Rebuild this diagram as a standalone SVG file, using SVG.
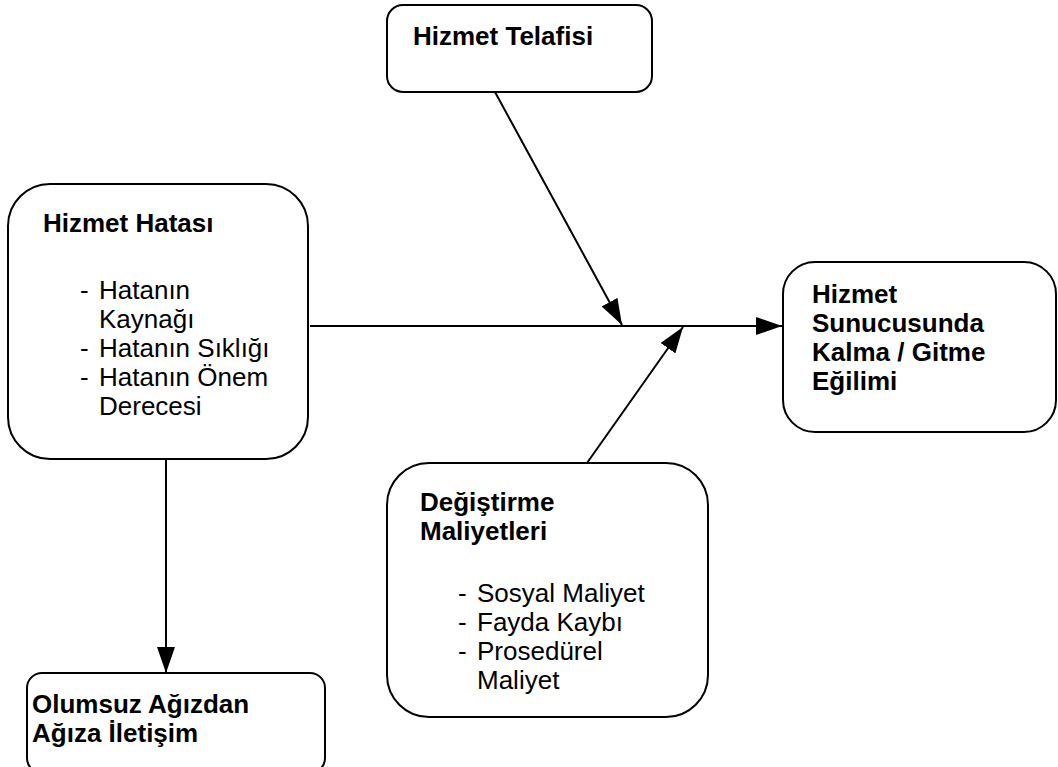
<svg xmlns="http://www.w3.org/2000/svg" width="1058" height="767" viewBox="0 0 1058 767">
<style>
.box{fill:#fff;stroke:#000;stroke-width:2}
.b{font-family:"Liberation Sans",Arial,sans-serif;font-size:26px;font-weight:bold;fill:#000}
.r{font-family:"Liberation Sans",Arial,sans-serif;font-size:26px;fill:#000}
.ln{stroke:#000;stroke-width:2;fill:none;marker-end:url(#ah)}
</style>
<defs>
<marker id="ah" markerUnits="userSpaceOnUse" markerWidth="26" markerHeight="18" viewBox="0 0 26 18" refX="26" refY="9" orient="auto">
<path d="M0,0 L26,9 L0,18 Z" fill="#000"/>
</marker>
</defs>
<rect width="1058" height="767" fill="#fff"/>
<g id="connectors">
<line class="ln" x1="310" y1="326" x2="782" y2="326"/>
<line class="ln" x1="495" y1="92" x2="622" y2="325"/>
<line class="ln" x1="587" y1="463" x2="683" y2="327"/>
<line class="ln" x1="166" y1="459" x2="166" y2="673"/>
</g>
<g id="telafisi">
<rect class="box" x="387" y="5" width="265" height="87" rx="16"/>
<text class="b" x="413" y="45">Hizmet Telafisi</text>
</g>
<g id="hata">
<rect class="box" x="8" y="184" width="300" height="275" rx="42"/>
<text class="b" x="43" y="232">Hizmet Hatası</text>
<text class="r" x="80" y="299">-</text><text class="r" x="99" y="299">Hatanın</text>
<text class="r" x="99" y="328">Kaynağı</text>
<text class="r" x="80" y="357">-</text><text class="r" x="99" y="357">Hatanın Sıklığı</text>
<text class="r" x="80" y="386">-</text><text class="r" x="99" y="386">Hatanın Önem</text>
<text class="r" x="99" y="415">Derecesi</text>
</g>
<g id="egilim">
<rect class="box" x="783" y="262" width="273" height="170" rx="32"/>
<text class="b" x="812" y="303">Hizmet</text>
<text class="b" x="812" y="332">Sunucusunda</text>
<text class="b" x="812" y="361">Kalma / Gitme</text>
<text class="b" x="812" y="390">Eğilimi</text>
</g>
<g id="degistirme">
<rect class="box" x="387" y="463" width="321" height="254" rx="42"/>
<text class="b" x="420" y="511">Değiştirme</text>
<text class="b" x="420" y="540">Maliyetleri</text>
<text class="r" x="458" y="602">-</text><text class="r" x="477" y="602">Sosyal Maliyet</text>
<text class="r" x="458" y="631">-</text><text class="r" x="477" y="631">Fayda Kaybı</text>
<text class="r" x="458" y="660">-</text><text class="r" x="477" y="660">Prosedürel</text>
<text class="r" x="477" y="689">Maliyet</text>
</g>
<g id="olumsuz">
<rect class="box" x="27" y="673" width="298" height="100" rx="15"/>
<text class="b" x="32" y="713">Olumsuz Ağızdan</text>
<text class="b" x="32" y="742">Ağıza İletişim</text>
</g>
</svg>
